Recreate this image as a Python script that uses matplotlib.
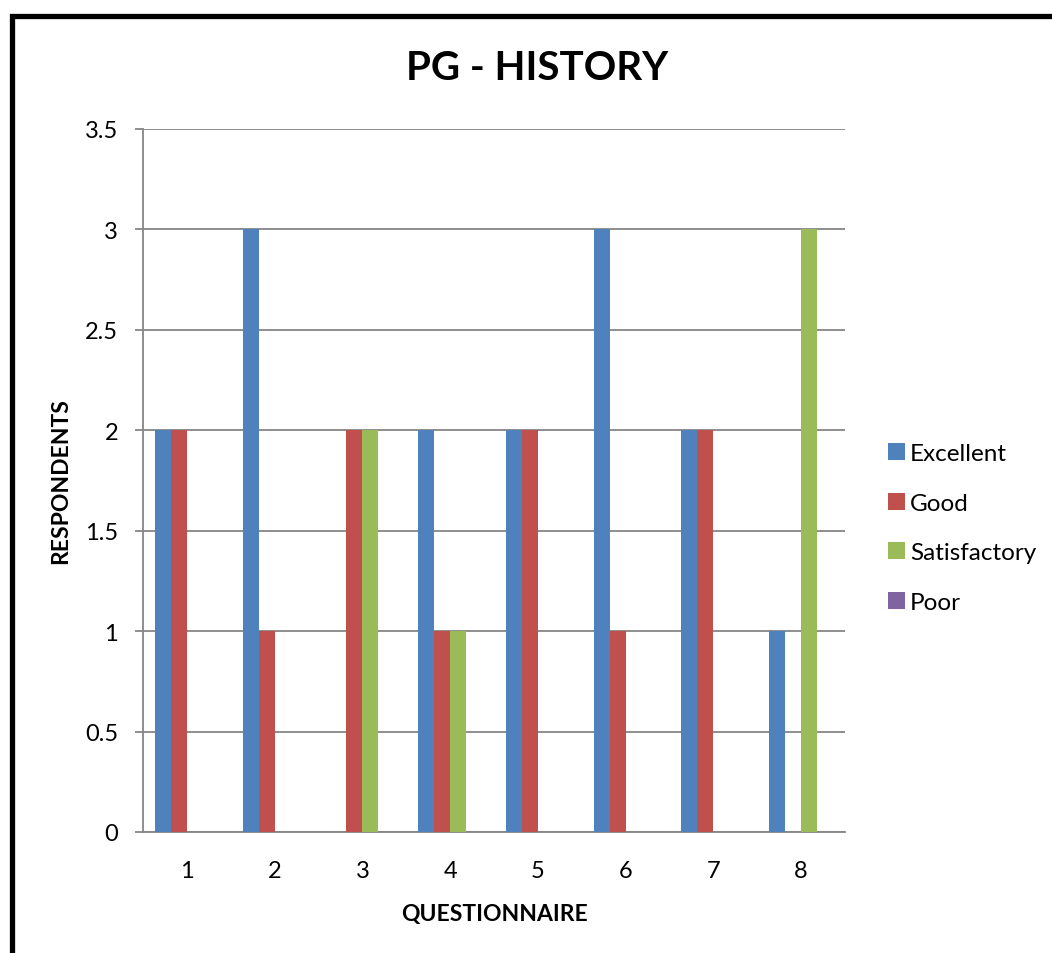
import matplotlib.pyplot as plt
import matplotlib.patches as patches
import numpy as np

questions = ['1', '2', '3', '4', '5', '6', '7', '8']
excellent = [2, 3, 0, 2, 2, 3, 2, 1]
good = [2, 1, 2, 1, 2, 1, 2, 0]
satisfactory = [0, 0, 2, 1, 0, 0, 0, 3]
poor = [0, 0, 0, 0, 0, 0, 0, 0]

series = [('Excellent', excellent, '#4F81BD'),
          ('Good', good, '#C0504D'),
          ('Satisfactory', satisfactory, '#9BBB59'),
          ('Poor', poor, '#8064A2')]

plt.rcParams['font.family'] = ['Lato', 'DejaVu Sans']

fig = plt.figure(figsize=(10.52, 9.54), dpi=100)
ax = fig.add_axes([143 / 1052, 1 - 833 / 954, 702 / 1052, 703 / 954])

x = np.arange(1, len(questions) + 1)
w = 0.182
for i, (name, vals, col) in enumerate(series):
    ax.bar(x + (i - 1.5) * w, vals, width=w, color=col, label=name, zorder=3)

ax.set_xlim(0.5, 8.5)
ax.set_ylim(0, 3.5)
ax.set_yticks(np.arange(0, 3.51, 0.5))
ax.set_yticklabels(['0', '0.5', '1', '1.5', '2', '2.5', '3', '3.5'])
ax.set_xticks(x)
ax.set_xticklabels(questions)
ax.grid(axis='y', color='#868686', linewidth=1.3, zorder=0)
for s in ['top', 'right']:
    ax.spines[s].set_visible(False)
for s in ['left', 'bottom']:
    ax.spines[s].set_color('#868686')
    ax.spines[s].set_linewidth(1.3)
ax.tick_params(axis='y', length=6, width=1.3, color='#868686', labelsize=17, pad=12)
ax.tick_params(axis='x', length=0, labelsize=17, pad=20)

ax.set_xlabel('QUESTIONNAIRE', fontsize=16.5, fontweight='bold', labelpad=16)
ax.set_ylabel('RESPONDENTS', fontsize=16.5, fontweight='bold', labelpad=10)
fig.text(537 / 1052, 1 - 68 / 954, 'PG - HISTORY', fontsize=29, fontweight='bold',
         ha='center', va='center')

fig.legend(loc='center left', bbox_to_anchor=(866 / 1052, 1 - 529 / 954), frameon=False,
           fontsize=17.5, handlelength=0.7, handleheight=0.7, handletextpad=0.2,
           labelspacing=1.18)

fig.patches.append(patches.Rectangle((11.5 / 1052, -0.1), 1.2, 1.1 - 16.5 / 954,
                                     transform=fig.transFigure, fill=False,
                                     edgecolor='black', linewidth=3.8))

fig.savefig('out.png', dpi=100, facecolor='white')
